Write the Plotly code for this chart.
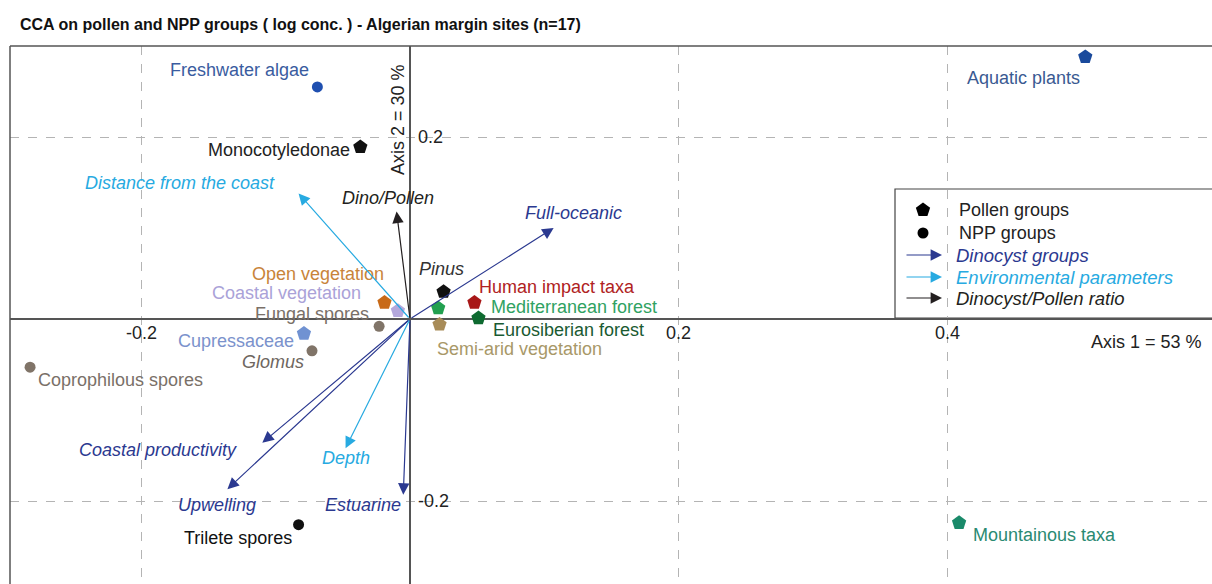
import plotly.graph_objects as go

# CCA scores (axis 1, axis 2)
pollen_names = ["Monocotyledonae", "Aquatic plants", "Mountainous taxa", "Cupressaceae",
                "Open vegetation", "Coastal vegetation", "Pinus", "Mediterranean forest",
                "Human impact taxa", "Eurosiberian forest", "Semi-arid vegetation"]
pollen_axis1 = [-0.037, 0.503, 0.409, -0.079, -0.019, -0.009, 0.025, 0.021, 0.048, 0.051, 0.022]
pollen_axis2 = [0.189, 0.288, -0.224, -0.016, 0.018, 0.009, 0.030, 0.012, 0.018, 0.001, -0.006]

npp_names = ["Freshwater algae", "Trilete spores", "Coprophilous spores", "Glomus", "Fungal spores"]
npp_axis1 = [-0.069, -0.083, -0.283, -0.073, -0.023]
npp_axis2 = [0.255, -0.226, -0.053, -0.035, -0.008]

arrow_names = ["Full-oceanic", "Coastal productivity", "Upwelling", "Estuarine",
               "Distance from the coast", "Depth", "Dino/Pollen"]
arrow_groups = ["dino", "dino", "dino", "dino", "env", "env", "ratio"]
arrow_axis1 = [0.107, -0.110, -0.136, -0.005, -0.083, -0.048, -0.010]
arrow_axis2 = [0.100, -0.136, -0.187, -0.193, 0.138, -0.142, 0.118]

x_ticks = [-0.2, 0.2, 0.4]
y_ticks = [0.2, -0.2]

legend_labels = ["Pollen groups", "NPP groups", "Dinocyst groups",
                 "Environmental parameters", "Dinocyst/Pollen ratio"]

# --- styles ---
FONT = "Liberation Sans, Arial, sans-serif"
FS = 18
group_color = {"dino": "#2b3990", "env": "#27aae1", "ratio": "#231f20"}
NPP_GREY = "#807468"

# marker colour, label colour, italic
point_style = {
    "Monocotyledonae": ("#111111", "#222222", False),
    "Aquatic plants": ("#1a4a9c", "#3a5a92", False),
    "Mountainous taxa": ("#1a8a6a", "#2a8a72", False),
    "Cupressaceae": ("#7092d2", "#7b92cc", False),
    "Open vegetation": ("#c86a18", "#c8843a", False),
    "Coastal vegetation": ("#b4a8dc", "#aaa2d8", False),
    "Pinus": ("#111111", "#333333", True),
    "Mediterranean forest": ("#22a050", "#30a262", False),
    "Human impact taxa": ("#a81818", "#b02222", False),
    "Eurosiberian forest": ("#0e6a30", "#1a5a32", False),
    "Semi-arid vegetation": ("#a88c58", "#a89868", False),
    "Freshwater algae": ("#1f4fb0", "#3a5ca0", False),
    "Trilete spores": ("#111111", "#111111", False),
    "Coprophilous spores": (NPP_GREY, "#7a7068", False),
    "Glomus": (NPP_GREY, "#6e6660", True),
    "Fungal spores": (NPP_GREY, "#7a7068", False),
}

# label placement: anchor, dx, dy (pixels, dy up)
label_pos = {
    "Freshwater algae": ("right", -7, 17),
    "Monocotyledonae": ("right", -9, -3),
    "Aquatic plants": ("right", -4, -21),
    "Mountainous taxa": ("left", 13, -12),
    "Trilete spores": ("right", -6, -13),
    "Coprophilous spores": ("left", 7, -13),
    "Glomus": ("right", -7, -11),
    "Cupressaceae": ("right", -9, -7),
    "Fungal spores": ("right", -9, 12),
    "Open vegetation": ("right", 1, 29),
    "Coastal vegetation": ("right", -36, 18),
    "Pinus": ("center", -2, 23),
    "Mediterranean forest": ("left", 52, 1),
    "Human impact taxa": ("left", 4, 16),
    "Eurosiberian forest": ("left", 14, -12),
    "Semi-arid vegetation": ("left", -4, -25),
    "Distance from the coast": ("right", -23, 10),
    "Dino/Pollen": ("center", -9, 14),
    "Full-oceanic": ("left", -30, 15),
    "Coastal productivity": ("right", -24, -7),
    "Upwelling": ("right", 30, -16),
    "Depth": ("left", -25, -10),
    "Estuarine": ("right", -1, -10),
}

W, H = 1212, 584
ML, MR, MT, MB = 10, 0, 46, 0


def px(xp):
    return (xp - ML) / (W - ML - MR)


def py(yp):
    return (H - MB - yp) / (H - MT - MB)


fig = go.Figure()

fig.add_trace(go.Scatter(
    x=pollen_axis1, y=pollen_axis2, mode="markers", hoverinfo="text", text=pollen_names,
    marker=dict(symbol="pentagon", size=15,
                color=[point_style[n][0] for n in pollen_names], line=dict(width=0)),
    showlegend=False))
fig.add_trace(go.Scatter(
    x=npp_axis1, y=npp_axis2, mode="markers", hoverinfo="text", text=npp_names,
    marker=dict(symbol="circle", size=11,
                color=[point_style[n][0] for n in npp_names], line=dict(width=0)),
    showlegend=False))

ann = []


def label(name, x, y, color, italic):
    anchor, dx, dy = label_pos[name]
    txt = "<i>%s</i>" % name if italic else name
    ann.append(dict(x=x, y=y, xref="x", yref="y", text=txt, showarrow=False,
                    xanchor=anchor, yanchor="middle", xshift=dx, yshift=dy,
                    borderpad=0, font=dict(family=FONT, size=FS, color=color)))


for n, x, y in zip(pollen_names, pollen_axis1, pollen_axis2):
    label(n, x, y, point_style[n][1], point_style[n][2])
for n, x, y in zip(npp_names, npp_axis1, npp_axis2):
    label(n, x, y, point_style[n][1], point_style[n][2])

for n, g, x, y in zip(arrow_names, arrow_groups, arrow_axis1, arrow_axis2):
    c = group_color[g]
    ann.append(dict(x=x, y=y, ax=0, ay=0, xref="x", yref="y", axref="x", ayref="y",
                    text="", showarrow=True, arrowhead=2, arrowsize=1.9,
                    arrowwidth=1.2, arrowcolor=c))
    label(n, x, y, c, True)

# tick labels sitting on the axes
for v in x_ticks:
    ann.append(dict(x=v, y=0, xref="x", yref="y", text="%g" % v, showarrow=False,
                    xanchor="center", yanchor="middle", yshift=-14,
                    font=dict(family=FONT, size=FS, color="#222222")))
for v in y_ticks:
    ann.append(dict(x=0, y=v, xref="x", yref="y", text="%g" % v, showarrow=False,
                    xanchor="left", yanchor="middle", xshift=6,
                    font=dict(family=FONT, size=FS, color="#222222")))

# axis titles
ann.append(dict(x=px(1204), y=py(342), xref="paper", yref="paper", text="Axis 1 = 53 %",
                showarrow=False, xanchor="right", yanchor="middle",
                font=dict(family=FONT, size=FS, color="#222222")))
ann.append(dict(x=px(398), y=py(120), xref="paper", yref="paper", text="Axis 2 = 30 %",
                showarrow=False, textangle=-90, xanchor="center", yanchor="middle",
                font=dict(family=FONT, size=FS, color="#222222")))

# legend (drawn by hand so the arrows can be shown)
leg_rows = [210, 233, 255, 277, 298]
leg_colors = ["#111111", "#111111", group_color["dino"], group_color["env"], group_color["ratio"]]
for i, (lab, c, yp) in enumerate(zip(legend_labels, leg_colors, leg_rows)):
    if i < 2:
        ann.append(dict(x=px(957), y=py(yp), xref="paper", yref="paper", text=lab,
                        showarrow=False, xanchor="left", yanchor="middle",
                        font=dict(family=FONT, size=FS, color="#222222")))
    else:
        ann.append(dict(x=px(942), y=py(yp), xref="paper", yref="paper", text="",
                        ax=-37, ay=0, showarrow=True, arrowhead=2, arrowsize=1.9,
                        arrowwidth=1.2, arrowcolor=c))
        ann.append(dict(x=px(954), y=py(yp), xref="paper", yref="paper",
                        text="<i>%s</i>" % lab, showarrow=False, xanchor="left",
                        yanchor="middle", font=dict(family=FONT, size=FS + 0.5, color=c)))

fig.add_trace(go.Scatter(
    x=[px(923), px(923)], y=[py(leg_rows[0]), py(leg_rows[1])], xaxis="x2", yaxis="y2",
    mode="markers", hoverinfo="skip", showlegend=False, opacity=1,
    marker=dict(symbol=["pentagon", "circle"], size=[15, 11], color="#000000",
                opacity=1, line=dict(width=0))))

shapes = [
    dict(type="line", xref="paper", yref="paper", x0=0, x1=1, y0=1, y1=1,
         line=dict(color="#555555", width=1.5)),
    dict(type="line", xref="paper", yref="paper", x0=0, x1=0, y0=0, y1=1,
         line=dict(color="#555555", width=1.5)),
    dict(type="rect", xref="paper", yref="paper", x0=px(895), x1=1.02,
         y0=py(318), y1=py(189), fillcolor="white", layer="below",
         line=dict(color="#444444", width=1.2)),
]

fig.update_layout(
    width=W, height=H,
    margin=dict(l=ML, r=MR, t=MT, b=MB),
    paper_bgcolor="white", plot_bgcolor="rgba(0,0,0,0)",
    title=dict(text="<b>CCA on pollen and NPP groups ( log conc. ) - Algerian margin sites (n=17)</b>",
               x=20 / W, xanchor="left", y=1 - 24 / H, yanchor="middle",
               font=dict(family=FONT, size=16, color="#111111")),
    xaxis=dict(range=[(ML - 410) / 1342.5, (W - MR - 410) / 1342.5], dtick=0.2, tick0=0,
               showgrid=True, gridcolor="#b4b4b4", griddash="dash", gridwidth=1,
               zeroline=True, zerolinecolor="#555555", zerolinewidth=1.5,
               showticklabels=False, ticks="", showline=False, fixedrange=True),
    yaxis=dict(range=[(319 - (H - MB)) / 910, (319 - MT) / 910], dtick=0.2, tick0=0,
               showgrid=True, gridcolor="#b4b4b4", griddash="dash", gridwidth=1,
               zeroline=True, zerolinecolor="#555555", zerolinewidth=1.5,
               showticklabels=False, ticks="", showline=False, fixedrange=True),
    xaxis2=dict(overlaying="x", range=[0, 1], visible=False, fixedrange=True),
    yaxis2=dict(overlaying="y", range=[0, 1], visible=False, fixedrange=True),
    annotations=ann, shapes=shapes,
)

fig.write_html("out.html", config={"displayModeBar": False},
               post_script="document.body.style.margin='0';document.body.style.overflow='hidden';")
